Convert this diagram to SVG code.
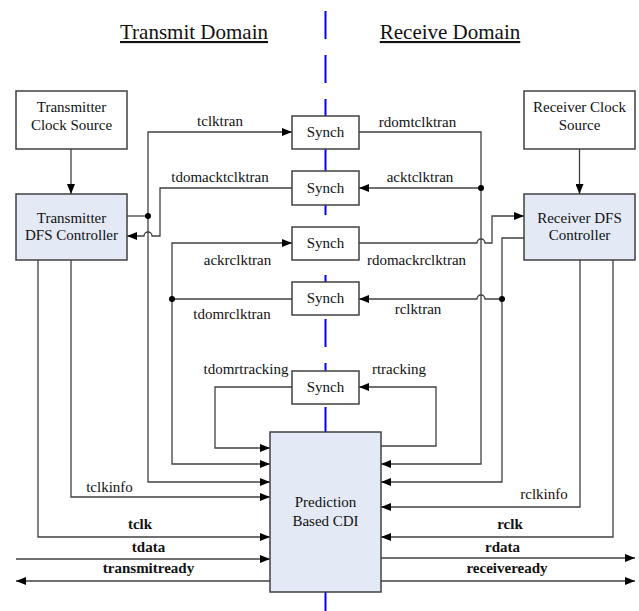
<svg xmlns="http://www.w3.org/2000/svg" width="639" height="611" viewBox="0 0 639 611" font-family="'Liberation Serif', 'DejaVu Serif', serif">
<defs>
<marker id="ah" markerWidth="10" markerHeight="8" refX="10" refY="4" orient="auto" markerUnits="userSpaceOnUse">
<path d="M0,0 L10,4 L0,8 z" fill="#000"/>
</marker>
<style>
text{font-family:'Liberation Serif','DejaVu Serif',serif;font-size:15px;fill:#111;text-anchor:middle}
.b{font-weight:bold}
.t{font-size:21px;text-decoration:underline}
.box{fill:#fff;stroke:#404040;stroke-width:1.5}
.blue{fill:#E4EAF5;stroke:#404040;stroke-width:1.5}
.c path,.c line{fill:none;stroke:#404040;stroke-width:1.3}
.a{marker-end:url(#ah)}
.dot{fill:#000}
</style>
</defs>
<rect width="639" height="611" fill="#fff"/>
<line x1="325.5" y1="11" x2="325.5" y2="611" stroke="#0000FF" stroke-width="2" stroke-dasharray="28 16"/>
<text class="t" x="194" y="39">Transmit Domain</text>
<text class="t" x="450" y="39">Receive Domain</text>

<g class="c" id="connectors">
<path class="a" d="M71,149 V194"/>
<path class="a" d="M579.5,149 V194"/>
<path d="M127,216 H148"/>
<path class="a" d="M148,216 V132 H292"/>
<path class="a" d="M148,216 V482 H270"/>
<path class="a" d="M292,188 H160 V236 H152 a4,4 0 0 0 -8,0 H127"/>
<path d="M292,299 H172"/>
<path class="a" d="M172,299 V243 H292"/>
<path class="a" d="M172,299 V464 H270"/>
<path class="a" d="M292,387 H215 V448 H270"/>
<path class="a" d="M71,260 V497 H270"/>
<path class="a" d="M38,260 V537 H270"/>
<path class="a" d="M16,559 H270"/>
<path class="a" d="M270,581 H16"/>
<path class="a" d="M359,132 H481 V464 H381"/>
<path class="a" d="M481,188 H359"/>
<path class="a" d="M359,243 H477 a4,4 0 0 1 8,0 H492 V216 H524"/>
<path class="a" d="M524,238 H502 V482 H381"/>
<path class="a" d="M502,299 H485 a4,4 0 0 0 -8,0 H359"/>
<path class="a" d="M381,446 H436 V387 H359"/>
<path class="a" d="M580,260 V507 H381"/>
<path class="a" d="M613,260 V537 H381"/>
<path class="a" d="M381,558 H635"/>
<path class="a" d="M381,581 H635"/>
<circle class="dot" cx="148" cy="216" r="3"/>
<circle class="dot" cx="172" cy="299" r="3"/>
<circle class="dot" cx="481" cy="188" r="3"/>
<circle class="dot" cx="502" cy="299" r="3"/>
<text x="220" y="126">tclktran</text>
<text x="220" y="182">tdomacktclktran</text>
<text x="237.5" y="265">ackrclktran</text>
<text x="232" y="319">tdomrclktran</text>
<text x="246" y="374">tdomrtracking</text>
<text x="417.5" y="127">rdomtclktran</text>
<text x="420" y="182">acktclktran</text>
<text x="416.5" y="265">rdomackrclktran</text>
<text x="418" y="314">rclktran</text>
<text x="399" y="374">rtracking</text>
<text x="109.5" y="492">tclkinfo</text>
<text class="b" x="140" y="529">tclk</text>
<text class="b" x="148.5" y="552">tdata</text>
<text class="b" x="148.5" y="573">transmitready</text>
<text x="544" y="499">rclkinfo</text>
<text class="b" x="510" y="529">rclk</text>
<text class="b" x="502.5" y="552">rdata</text>
<text class="b" x="507" y="573">receiveready</text>
</g>

<g id="tx-clock"><rect class="box" x="16" y="91" width="111" height="58"/><text x="71.5" y="112">Transmitter</text><text x="71.5" y="130">Clock Source</text></g>
<g id="tx-dfs"><rect class="blue" x="16" y="194" width="111" height="66"/><text x="71.5" y="223">Transmitter</text><text x="71.5" y="240">DFS Controller</text></g>
<g id="rx-clock"><rect class="box" x="524" y="91" width="111" height="58"/><text x="579.5" y="112">Receiver Clock</text><text x="579.5" y="130">Source</text></g>
<g id="rx-dfs"><rect class="blue" x="524" y="194" width="111" height="66"/><text x="579.5" y="223">Receiver DFS</text><text x="579.5" y="240">Controller</text></g>
<g id="synch1"><rect class="box" x="292" y="116" width="67" height="33"/><text x="325.5" y="137">Synch</text></g>
<g id="synch2"><rect class="box" x="292" y="171" width="67" height="34"/><text x="325.5" y="193">Synch</text></g>
<g id="synch3"><rect class="box" x="292" y="227" width="67" height="33"/><text x="325.5" y="248">Synch</text></g>
<g id="synch4"><rect class="box" x="292" y="282" width="67" height="33"/><text x="325.5" y="303">Synch</text></g>
<g id="synch5"><rect class="box" x="292" y="371" width="67" height="33"/><text x="325.5" y="392">Synch</text></g>
<g id="cdi"><rect class="blue" x="270" y="432" width="111" height="160"/><text x="325.5" y="507">Prediction</text><text x="325.5" y="526">Based CDI</text></g>
</svg>
